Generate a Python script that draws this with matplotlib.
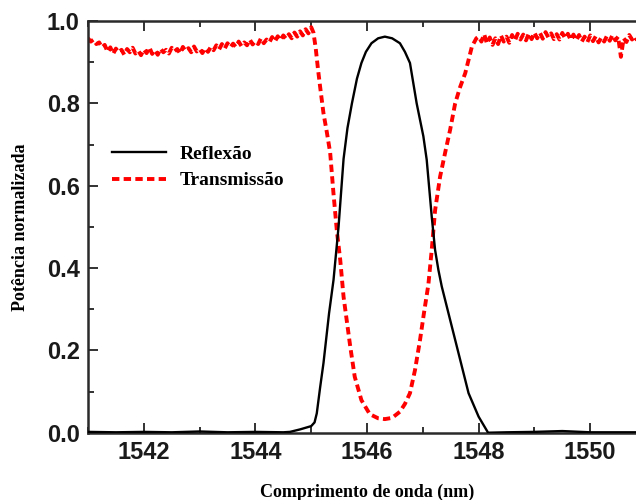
import numpy as np
import matplotlib
matplotlib.use("Agg")
import matplotlib.pyplot as plt
from matplotlib.ticker import MultipleLocator

# ---------------- data ----------------
# Reflexão (black, solid)
refl_wl = [1541.0, 1541.5, 1542.0, 1542.5, 1543.0, 1543.5, 1544.0, 1544.5, 1544.62,
           1544.8, 1545.0, 1545.06, 1545.10, 1545.16, 1545.22, 1545.32, 1545.40,
           1545.49, 1545.58, 1545.65, 1545.73, 1545.82, 1545.90, 1545.98, 1546.08,
           1546.20, 1546.32, 1546.45, 1546.59, 1546.68, 1546.77, 1546.89, 1547.01,
           1547.07, 1547.16, 1547.22, 1547.28, 1547.34, 1547.49, 1547.67, 1547.82,
           1548.00, 1548.17, 1548.5, 1549.0, 1549.5, 1550.0, 1551.0]
refl_val = [0.002, 0.001, 0.002, 0.001, 0.003, 0.001, 0.002, 0.001, 0.002,
            0.008, 0.016, 0.025, 0.047, 0.110, 0.169, 0.290, 0.371,
            0.500, 0.665, 0.740, 0.800, 0.860, 0.898, 0.925, 0.946,
            0.958, 0.962, 0.958, 0.946, 0.925, 0.898, 0.800, 0.720,
            0.663, 0.525, 0.444, 0.395, 0.355, 0.274, 0.177, 0.096,
            0.039, 0.000, 0.001, 0.002, 0.004, 0.001, 0.001]

# Transmissão (red, dashed) - left plateau, sampled every 0.05 nm from 1541.00
trans_left_start = 1541.0
trans_left_val = [0.958, 0.950, 0.955, 0.944, 0.948, 0.936, 0.942, 0.925, 0.936, 0.920,
                  0.933, 0.924, 0.930, 0.918, 0.932, 0.924, 0.935, 0.921, 0.928, 0.917,
                  0.931, 0.922, 0.936, 0.920, 0.929, 0.918, 0.933, 0.924, 0.930, 0.921,
                  0.935, 0.926, 0.932, 0.921, 0.937, 0.927, 0.934, 0.924, 0.938, 0.926,
                  0.932, 0.922, 0.934, 0.925, 0.937, 0.929, 0.941, 0.931, 0.944, 0.933,
                  0.946, 0.936, 0.945, 0.937, 0.950, 0.939, 0.948, 0.941, 0.955, 0.943,
                  0.951, 0.944, 0.958, 0.946, 0.955, 0.948, 0.961, 0.950, 0.963, 0.953,
                  0.965, 0.957, 0.968, 0.958, 0.972, 0.962, 0.975, 0.965, 0.980, 0.970,
                  0.985]
# Transmissão - notch
trans_notch_wl = [1545.04, 1545.08, 1545.12, 1545.16, 1545.22, 1545.28, 1545.34, 1545.40,
                  1545.46, 1545.52, 1545.58, 1545.64, 1545.70, 1545.78, 1545.90, 1546.05,
                  1546.20, 1546.32, 1546.45, 1546.59, 1546.68, 1546.77, 1546.86, 1546.95,
                  1547.02, 1547.10, 1547.16, 1547.22, 1547.31, 1547.40, 1547.49, 1547.58,
                  1547.67, 1547.76, 1547.82, 1547.88, 1547.96]
trans_notch_val = [0.972, 0.935, 0.885, 0.840, 0.776, 0.730, 0.680, 0.580,
                   0.490, 0.420, 0.330, 0.270, 0.209, 0.136, 0.079, 0.045,
                   0.035, 0.033, 0.036, 0.051, 0.070, 0.096, 0.152, 0.225,
                   0.290, 0.360, 0.444, 0.540, 0.622, 0.680, 0.736, 0.800,
                   0.840, 0.873, 0.906, 0.938, 0.958]
# Transmissão - right plateau, sampled every 0.05 nm from 1548.00
trans_right_start = 1548.0
trans_right_val = [0.962, 0.950, 0.968, 0.945, 0.960, 0.942, 0.958, 0.944, 0.965, 0.950,
                   0.962, 0.947, 0.966, 0.952, 0.969, 0.955, 0.967, 0.953, 0.970, 0.956,
                   0.972, 0.958, 0.971, 0.957, 0.973, 0.960, 0.970, 0.956, 0.968, 0.955,
                   0.971, 0.958, 0.969, 0.954, 0.967, 0.953, 0.966, 0.950, 0.962, 0.949,
                   0.965, 0.951, 0.963, 0.948, 0.960, 0.950, 0.964, 0.952, 0.966, 0.953,
                   0.962, 0.913, 0.958, 0.949, 0.966, 0.955, 0.963, 0.950, 0.960, 0.952,
                   0.958]
step = 0.05

x_ticks = [1542, 1544, 1546, 1548, 1550]
y_ticks = [0.0, 0.2, 0.4, 0.6, 0.8, 1.0]

trans_wl = np.concatenate([
    trans_left_start + step * np.arange(len(trans_left_val)),
    np.array(trans_notch_wl),
    trans_right_start + step * np.arange(len(trans_right_val)),
])
trans_val = np.concatenate([trans_left_val, trans_notch_val, trans_right_val])

# ---------------- plot ----------------
fig = plt.figure(figsize=(6.36, 5.0), dpi=100)
ax = fig.add_axes([88 / 636, 67.3 / 500, 558 / 636, 411.7 / 500])

ax.plot(trans_wl, trans_val, color="#ff0000", lw=2.8, linestyle=(0, (1.9, 1.1)),
        label="Transmissão", zorder=2)
ax.plot(refl_wl, refl_val, color="black", lw=1.7, label="Reflexão", zorder=3)

ax.set_xlim(1541.0, 1551.0)
ax.set_ylim(0.0, 1.0)
ax.set_xticks(x_ticks)
ax.set_yticks(y_ticks)
ax.set_yticklabels([f"{v:.1f}" for v in y_ticks])
ax.xaxis.set_minor_locator(MultipleLocator(1))
ax.yaxis.set_minor_locator(MultipleLocator(0.1))

ax.tick_params(which="both", direction="in", top=True, right=False, width=1.3,
               colors="#222222")
ax.tick_params(which="major", length=7, pad=6)
ax.tick_params(which="minor", length=4)
for lab in ax.get_xticklabels() + ax.get_yticklabels():
    lab.set_family("Liberation Sans")
    lab.set_fontweight("bold")
    lab.set_fontsize(17)
    lab.set_color("#1a1a1a")

for side in ["left", "bottom", "top"]:
    ax.spines[side].set_linewidth(1.8)
    ax.spines[side].set_color("#2a2a2a")
ax.spines["right"].set_visible(False)

ax.set_xlabel("Comprimento de onda (nm)", family="Liberation Serif", fontweight="bold",
              fontsize=13, labelpad=14)
ax.set_ylabel("Potência normalizada", family="Liberation Serif", fontweight="bold",
              fontsize=13, labelpad=13)

handles, labels = ax.get_legend_handles_labels()
leg = ax.legend(handles[::-1], labels[::-1], loc="upper left",
                bbox_to_anchor=(0.043, 0.698), frameon=False,
                prop={"family": "Liberation Serif", "weight": "bold", "size": 14},
                handlelength=2.8, handletextpad=0.7, labelspacing=0.45,
                borderpad=0, borderaxespad=0)

fig.savefig("out.png", dpi=100)
